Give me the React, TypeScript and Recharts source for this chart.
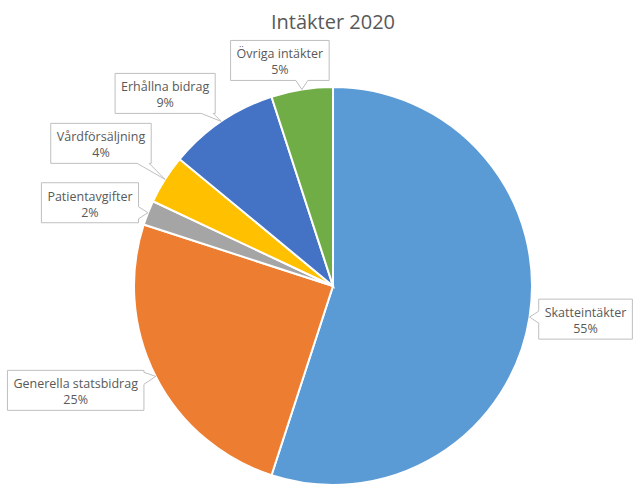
import React from "react";
import { Cell, Pie, PieChart } from "recharts";

const NAMES = [
  "Skatteintäkter",
  "Generella statsbidrag",
  "Patientavgifter",
  "Vårdförsäljning",
  "Erhållna bidrag",
  "Övriga intäkter",
];
const VALUES = [55, 25, 2, 4, 9, 5];
const COLORS = ["#5B9BD5", "#ED7D31", "#A5A5A5", "#FFC000", "#4472C4", "#70AD47"];
// where each callout box sits, as an offset of its centre from the slice tip
const LABEL_SHIFT = [
  [56, 2],
  [-80, 14],
  [-58, -10],
  [-64, -36],
  [-56, -28],
  [-22, -29],
];

const TITLE = "Intäkter 2020";
const FONT = "'Open Sans', sans-serif";
const LABEL_SIZE = 12.5;
const RAD = Math.PI / 180;

const data = NAMES.map((name, i) => ({ name, value: VALUES[i] }));

let ctx: CanvasRenderingContext2D | null = null;
function textWidth(s: string) {
  if (!ctx) ctx = document.createElement("canvas").getContext("2d");
  if (!ctx) return s.length * 6.5;
  ctx.font = `${LABEL_SIZE}px ${FONT}`;
  return ctx.measureText(s).width;
}

function calloutPath(x: number, y: number, w: number, h: number, tx: number, ty: number) {
  const over = {
    top: y - ty,
    right: tx - (x + w),
    bottom: ty - (y + h),
    left: x - tx,
  };
  const side = (Object.keys(over) as (keyof typeof over)[]).reduce((a, b) => (over[b] > over[a] ? b : a));
  const hw = 6;
  const clamp = (v: number, lo: number, hi: number) => Math.max(lo, Math.min(hi, v));
  const bx = clamp(tx, x + hw + 2, x + w - hw - 2);
  const by = clamp(ty, y + hw + 2, y + h - hw - 2);
  let d = `M${x},${y}`;
  if (side === "top") d += ` L${bx - hw},${y} L${tx},${ty} L${bx + hw},${y}`;
  d += ` L${x + w},${y}`;
  if (side === "right") d += ` L${x + w},${by - hw} L${tx},${ty} L${x + w},${by + hw}`;
  d += ` L${x + w},${y + h}`;
  if (side === "bottom") d += ` L${bx + hw},${y + h} L${tx},${ty} L${bx - hw},${y + h}`;
  d += ` L${x},${y + h}`;
  if (side === "left") d += ` L${x},${by + hw} L${tx},${ty} L${x},${by - hw}`;
  return d + " Z";
}

function CalloutLabel(props: any) {
  const { cx, cy, midAngle, outerRadius, name, percent, index } = props;
  const tx = cx + outerRadius * Math.cos(-midAngle * RAD);
  const ty = cy + outerRadius * Math.sin(-midAngle * RAD);
  const [dx, dy] = LABEL_SHIFT[index];
  const pct = `${Math.round(percent * 100)}%`;
  const w = Math.max(textWidth(name), textWidth(pct)) + 12;
  const h = 40;
  const x = tx + dx - w / 2;
  const y = ty + dy - h / 2;
  return (
    <g>
      <path d={calloutPath(x, y, w, h, tx, ty)} fill="#fff" stroke="#BFBFBF" strokeWidth={1} />
      <text x={x + w / 2} y={y + 18} textAnchor="middle" fontSize={LABEL_SIZE} fontFamily={FONT} fill="#595959">
        {name}
      </text>
      <text x={x + w / 2} y={y + 34} textAnchor="middle" fontSize={LABEL_SIZE} fontFamily={FONT} fill="#595959">
        {pct}
      </text>
    </g>
  );
}

export default function App() {
  return (
    <div style={{ position: "relative", width: 634, height: 486, background: "#fff", fontFamily: FONT }}>
      <style>{"body{margin:0}"}</style>
      <div
        style={{
          position: "absolute",
          left: 0,
          top: 8,
          width: 666,
          textAlign: "center",
          fontSize: 20,
          color: "#595959",
        }}
      >
        {TITLE}
      </div>
      <PieChart
        width={634}
        height={486}
        margin={{ top: 0, right: 0, bottom: 0, left: 0 }}
        style={{ position: "absolute", left: 0, top: 0 }}
      >
        <Pie
          data={data}
          dataKey="value"
          nameKey="name"
          cx={333}
          cy={286}
          outerRadius={199}
          startAngle={90}
          endAngle={-270}
          stroke="#fff"
          strokeWidth={2}
          label={CalloutLabel}
          labelLine={false}
          isAnimationActive={false}
        >
          {data.map((d, i) => (
            <Cell key={d.name} fill={COLORS[i]} />
          ))}
        </Pie>
      </PieChart>
    </div>
  );
}
